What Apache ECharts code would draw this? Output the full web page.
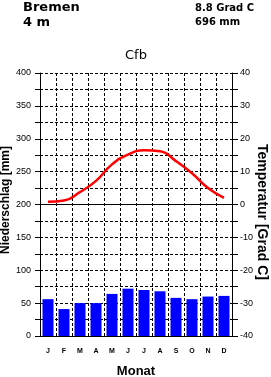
<!DOCTYPE html>
<html>
<head>
<meta charset="utf-8">
<script src="https://cdn.jsdelivr.net/npm/echarts@6/dist/echarts.min.js"></script>
<style>html,body{margin:0;padding:0;background:#fff}#c{width:271px;height:377px}</style>
</head>
<body>
<div id="c"></div>
<script>
var months = ['J','F','M','A','M','J','J','A','S','O','N','D'];
var precip = [56, 41, 50, 50, 64, 72, 70, 68, 58, 56, 60, 61];
var temp = [0.8, 1.2, 3.8, 7.2, 12.2, 15.2, 16.5, 16.2, 13.2, 9.5, 5.0, 2.0];
var station = 'Bremen';
var elevation = '4 m';
var annualTemp = '8.8 Grad C';
var annualPrecip = '696 mm';
var climateClass = 'Cfb';

var F = 'Liberation Sans, Arial, sans-serif';
var D = 'DejaVu Sans, sans-serif';
var chart = echarts.init(document.getElementById('c'));
chart.setOption({
  animation: false,
  backgroundColor: '#fff',
  graphic: [
    {type:'text', left:23, top:1, style:{text:station, font:'bold 13px '+D, fill:'#000'}},
    {type:'text', left:23, top:16, style:{text:elevation, font:'bold 13px '+D, fill:'#000'}},
    {type:'text', left:195, top:3, style:{text:annualTemp, font:'bold 10px '+D, fill:'#000'}},
    {type:'text', left:195, top:17, style:{text:annualPrecip, font:'bold 10px '+D, fill:'#000'}},
    {type:'text', x:136, y:56, style:{text:climateClass, font:'13px '+D, fill:'#000', align:'center', verticalAlign:'middle'}},
    {type:'text', x:6, y:200, rotation:Math.PI/2, style:{text:'Niederschlag [mm]', font:'bold 12px '+F, fill:'#000', align:'center', verticalAlign:'middle'}},
    {type:'text', x:262, y:212, rotation:-Math.PI/2, style:{text:'Temperatur [Grad C]', font:'bold 14px '+F, fill:'#000', align:'center', verticalAlign:'middle'}},
    {type:'text', x:136, y:371, style:{text:'Monat', font:'bold 13px '+F, fill:'#000', align:'center', verticalAlign:'middle'}}
  ],
  grid: {left:40, right:39, top:73, bottom:41, outerBoundsMode:'none', containLabel:false},
  xAxis: {
    type:'category', data:months, boundaryGap:true,
    axisLine:{lineStyle:{color:'#000', width:1}},
    axisTick:{show:false},
    axisLabel:{interval:0, color:'#000', fontSize:7, fontWeight:'bold', fontFamily:F, margin:12},
    splitLine:{show:true, interval:0, lineStyle:{color:'#000', type:[3,2], width:1}}
  },
  yAxis: [
    {
      type:'value', min:0, max:400, interval:25, position:'left',
      axisLine:{show:true, lineStyle:{color:'#000', width:1}},
      axisTick:{show:true, length:5, lineStyle:{color:'#000'}},
      axisLabel:{color:'#000', fontSize:9, fontFamily:F, margin:9,
        formatter:function(v){return v%50===0 ? String(v) : '';}},
      splitLine:{show:true, lineStyle:{color:'#000', type:[3,2], width:1}}
    },
    {
      type:'value', min:-40, max:40, interval:5, position:'right',
      axisLine:{show:true, lineStyle:{color:'#000', width:1}},
      axisTick:{show:true, length:6, lineStyle:{color:'#000'}},
      axisLabel:{color:'#000', fontSize:9, fontFamily:F, margin:8,
        formatter:function(v){return v%10===0 ? String(v) : '';}},
      splitLine:{show:false}
    }
  ],
  series: [
    {
      type:'bar', data:precip, yAxisIndex:0, barWidth:11,
      itemStyle:{color:'#0000ff'},
      markLine:{silent:true, symbol:'none', label:{show:false},
        lineStyle:{color:'#000', type:'solid', width:1},
        data:[{yAxis:200}]}
    },
    {
      type:'line', data:temp, yAxisIndex:1, smooth:true, symbol:'none',
      lineStyle:{color:'#ff0000', width:2.5}
    }
  ]
});
</script>
</body>
</html>
